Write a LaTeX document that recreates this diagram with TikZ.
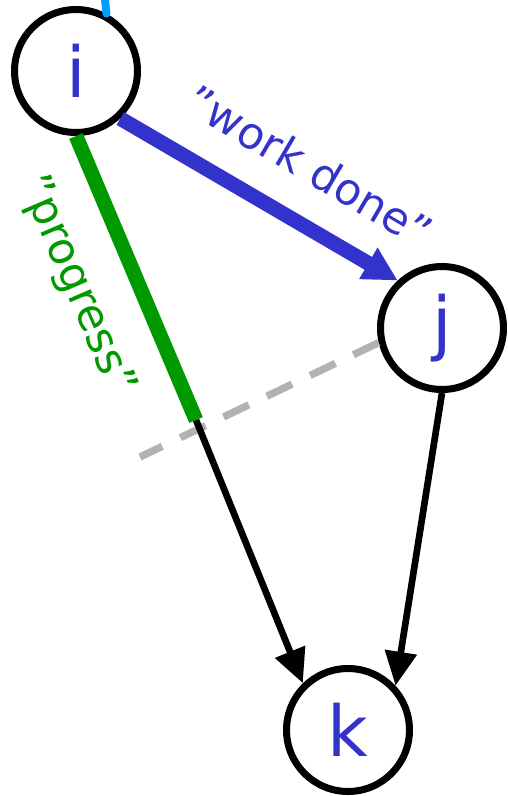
\documentclass[tikz,border=0pt]{standalone}
\usepackage{fontspec}
\setmainfont{DejaVu Sans}
\usepackage{tikz}
\usetikzlibrary{positioning}
\usetikzlibrary{arrows.meta}

\definecolor{workblue}{RGB}{51,51,204}
\definecolor{progreen}{RGB}{0,153,0}
\definecolor{topblue}{RGB}{0,160,255}
\definecolor{cutgray}{RGB}{178,178,178}

\tikzset{
  vertex/.style={circle, draw=black, line width=4pt, fill=white, minimum size=2.46cm,
    inner sep=0pt, text=workblue, font=\fontsize{40}{44}\selectfont},
  edgelabel/.style={font=\fontsize{25}{30}\selectfont},
  blackarrow/.style={line width=3.8pt, -{Triangle[length=0.68cm, width=0.62cm]}}
}

\begin{document}
\begin{tikzpicture}[x=0.02cm, y=-0.02cm]
    \useasboundingbox (0,0) rectangle (508,796);

    % Vertices
    \node[vertex] (i) at (76,71) {i};
    \node[vertex] (j) at (442,328) {j};
    \node[vertex] (k) at (348,730) {k};

    % Helper points
    \coordinate (top) at (105,0);
    \coordinate (p) at (196,420);
    \coordinate (d) at (140,457);

    % Incoming edge at the top
    \draw[topblue, line width=4.5pt, line cap=round] (top) -- (i.62.6);

    % Cut line
    \draw[cutgray, line width=4.2pt, dash pattern=on 0.56cm off 0.4cm] (j.193) -- (d);

    % Edges
    \draw[blackarrow] (p) -- (k.134);
    \draw[blackarrow] (j.south) -- (k.43);
    \draw[progreen, line width=8.4pt] (i.south) -- (p);
    \draw[workblue, line width=8.4pt, -{Triangle[length=0.68cm, width=0.68cm]}] (i.-47) -- (j.133);

    % Labels
    \node[edgelabel, workblue, rotate=-30.4] (work) at (310,166) {"work done"};
    \node[edgelabel, progreen, rotate=-66.8] (prog) at (76,286) {"progress"};
  \end{tikzpicture}
\end{document}
